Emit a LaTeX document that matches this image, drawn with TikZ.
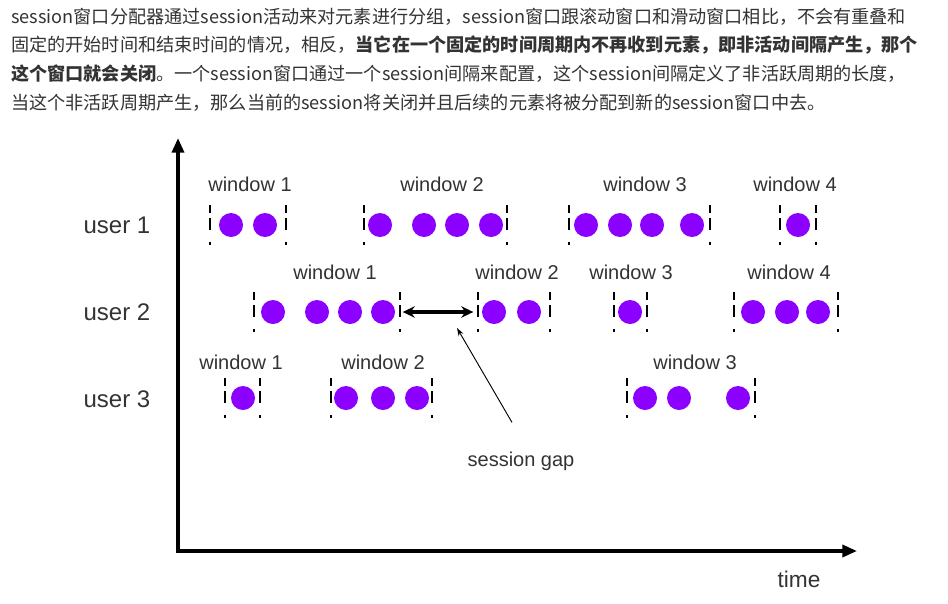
\documentclass[tikz,border=0pt]{standalone}
\usepackage{fontspec}
\setmainfont{Liberation Sans}
\newfontfamily\cjk{Noto Sans CJK SC}
\XeTeXlinebreaklocale "zh"
\XeTeXlinebreakskip=0pt plus 3pt
\usetikzlibrary{positioning,arrows.meta}
\definecolor{evtpurple}{RGB}{140,0,255}
\definecolor{inkgray}{RGB}{51,51,51}

\begin{document}
\begin{tikzpicture}[
    x=0.75pt, y=-0.75pt,
    para/.style={anchor=west, inner sep=0pt, align=justify, font=\cjk\fontsize{13.6pt}{18pt}\selectfont, text=inkgray},
    user/.style={inner sep=0pt, font=\fontsize{18pt}{20pt}\selectfont, text=inkgray},
    win/.style={inner sep=0pt, outer sep=0pt, minimum height=30pt},
    winlabel/.style={inner sep=0pt, font=\fontsize{15pt}{17pt}\selectfont, text=inkgray},
    edge/.style={line width=1.5pt, dash pattern=on 6pt off 3.75pt on 9pt off 9pt on 2.25pt},
    event/.style={fill=evtpurple},
    axis/.style={line width=2.6pt, {Triangle[length=11pt,width=9pt]}-{Triangle[length=11pt,width=9pt]}},
    gaparrow/.style={{Stealth[length=9pt,width=8.5pt]}-{Stealth[length=9pt,width=8.5pt]}, line width=2.6pt},
    pointer/.style={-{Stealth[length=6pt,width=4pt]}, line width=0.7pt}
]
\path[fill=white, use as bounding box] (0,0) rectangle (948,603);

% text above the diagram
\node[para, text width=678pt] (line1) at (11,17) {\parfillskip=0pt session窗口分配器通过session活动来对元素进行分组，session窗口跟滚动窗口和滑动窗口相比，不会有重叠和};
\node[para, text width=682.5pt] (line2) at (11,45) {\parfillskip=0pt 固定的开始时间和结束时间的情况，相反，\textbf{当它在一个固定的时间周期内不再收到元素，即非活动间隔产生，那个}};
\node[para, text width=676.5pt] (line3) at (11,74) {\parfillskip=0pt \textbf{这个窗口就会关闭}。一个session窗口通过一个session间隔来配置，这个session间隔定义了非活跃周期的长度，};
\node[para, align=left] (line4) at (11,103) {当这个非活跃周期产生，那么当前的session将关闭并且后续的元素将被分配到新的session窗口中去。};

% axes
\coordinate (origin) at (178,551);
\coordinate (ytop) at (178,138);
\coordinate (xend) at (857,551);
\draw[axis] (ytop) -- (origin) -- (xend);
\node[user] (time) at (799,579) {\fontsize{17pt}{19pt}\selectfont time};

% users
\node[user] (user1) at (117,225) {user 1};
\node[user] (user2) at (117,312) {user 2};
\node[user] (user3) at (117,399) {user 3};

% session windows: name/left/right/y/label x/label y/label/events
\foreach \nm/\xl/\xr/\y/\lx/\ly/\lab/\evts in {
    a1/210/286/225/250/184/window 1/{231,265},
    a2/364/507/225/442/184/window 2/{380,424,457,491},
    a3/569/710/225/645/184/window 3/{586,620,652,692},
    a4/780/816/225/795/184/window 4/{798},
    b1/254/400/312/335/272/window 1/{273,317,350,383},
    b2/478/550/312/517/272/window 2/{494,529},
    b3/614/647/312/631/272/window 3/{630},
    b4/734/838/312/789/272/window 4/{753,787,818},
    c1/225/260/398/241/362/window 1/{243},
    c2/331/432/398/383/362/window 2/{346,383,417},
    c3/627/755/398/695/362/window 3/{645,679,738}} {
  \node[win, minimum width={(\xr-\xl)*0.75pt}] (\nm) at ({(\xl+\xr)/2},\y) {};
  \node[winlabel] (\nm lab) at (\lx,\ly) {\lab};
  \draw[edge] (\nm.north west) -- (\nm.south west);
  \draw[edge] (\nm.north east) -- (\nm.south east);
  \foreach \ex in \evts
    \fill[event] (\ex,\y) circle[radius=9pt];
}

% session gap
\draw[gaparrow, shorten <=2pt, shorten >=3.5pt] (b1.east) -- (b2.west);
\node[winlabel] (gap) at (521,461) {session gap};
\coordinate (gaptip) at (457,328);
\draw[pointer] (gap.north) ++(-9,-29) -- (gaptip);
\end{tikzpicture}
\end{document}
